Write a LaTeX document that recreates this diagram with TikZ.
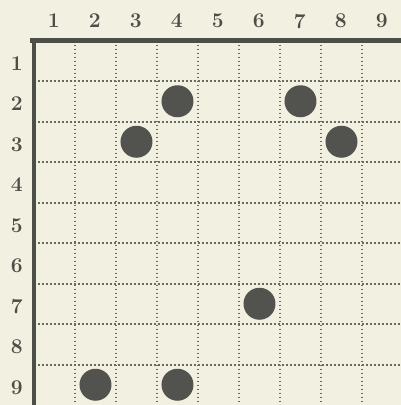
\documentclass[tikz,border=0pt]{standalone}
\definecolor{papercream}{RGB}{242,240,224}
\definecolor{inkgrey}{RGB}{78,78,72}
\definecolor{stonegrey}{RGB}{82,82,78}
\begin{document}
\begin{tikzpicture}[
    x=41pt, y=-40.5pt,
    font=\fontsize{21}{21}\selectfont\bfseries,
    frame/.style={line width=4.5pt, draw=inkgrey},
    gridline/.style={line width=2pt, draw=inkgrey!85, dash pattern=on 1.8pt off 2.2pt},
    stone/.style={circle, fill=stonegrey, minimum size=32pt, inner sep=0pt},
    coordlabel/.style={text=inkgrey}
]

% Paper and margins
\fill[papercream] (-0.829,-1) rectangle (8.951,9);
\useasboundingbox (-0.829,-1) rectangle (8.951,9);

% Dotted cell lines
\foreach \i in {1,...,8} {
    \draw[gridline] (\i,0) -- (\i,9);
    \draw[gridline] (0,\i) -- (8.951,\i);
}

% Heavy edges, top and left
\draw[frame] (-0.1,0) -- (8.951,0);
\draw[frame] (0,0.06) -- (0,9);

% Column and row numbers
\foreach \n in {1,...,9} {
    \node[coordlabel] (col\n) at (\n-0.52,-0.48) {\n};
    \node[coordlabel] (row\n) at (-0.42,\n-0.43) {\n};
}

% Stones
\node[stone] (d2) at (3.5,1.5) {};
\node[stone] (g2) at (6.5,1.5) {};
\node[stone] (c3) at (2.5,2.5) {};
\node[stone] (h3) at (7.5,2.5) {};
\node[stone] (f7) at (5.5,6.5) {};
\node[stone] (b9) at (1.5,8.5) {};
\node[stone] (d9) at (3.5,8.5) {};

\end{tikzpicture}
\end{document}
